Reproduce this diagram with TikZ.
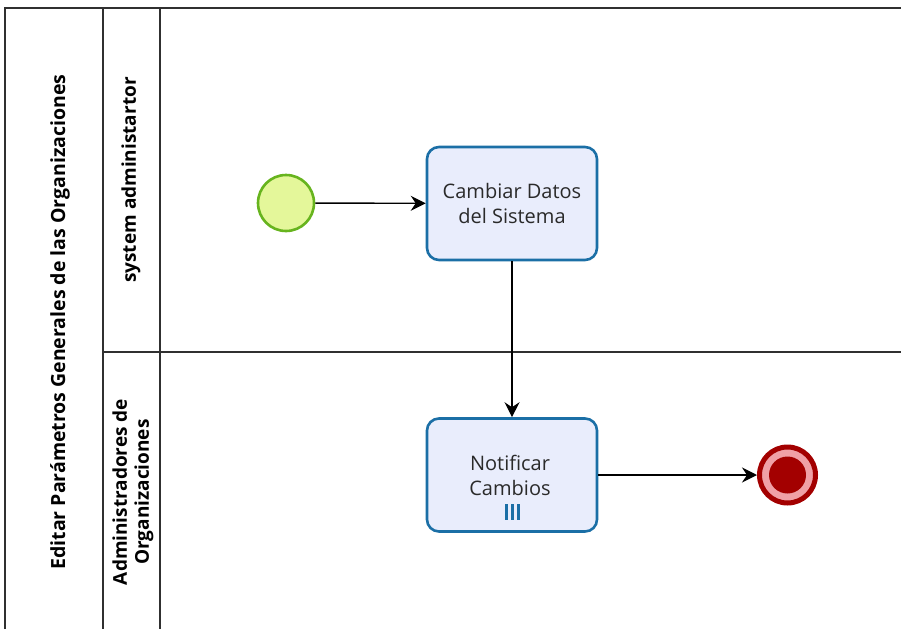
\documentclass[tikz,border=0pt]{standalone}
\usepackage{fontspec}
\setmainfont{Open Sans}
\usetikzlibrary{arrows.meta}
\definecolor{taskfill}{HTML}{E9EDFC}
\definecolor{taskline}{HTML}{1B6FA6}
\definecolor{startfill}{HTML}{E4F79A}
\definecolor{startline}{HTML}{67B41E}
\definecolor{endred}{HTML}{A30000}
\definecolor{endpink}{HTML}{F0A0A6}
\definecolor{poolline}{HTML}{303030}
\definecolor{tasktext}{HTML}{2A2A2A}
\tikzset{
  poolrule/.style={draw=poolline, line width=1.1pt},
  lanetext/.style={font=\bfseries\fontsize{19}{22}\selectfont, rotate=90, align=center, inner sep=0pt},
  tasklabel/.style={font=\fontsize{20}{25}\selectfont, align=center, text=tasktext},
  task/.style={draw=taskline, fill=taskfill, line width=2.6pt, rounded corners=12pt,
    minimum width=170pt, minimum height=113pt, tasklabel},
  startev/.style={circle, draw=startline, fill=startfill, line width=2.6pt, minimum size=56pt, inner sep=0pt},
  endev/.style={circle, draw=endred, fill=endpink, line width=5pt, minimum size=56pt, inner sep=0pt},
  flow/.style={draw=black, line width=1.4pt, -{Stealth[length=15pt, width=15pt, inset=5pt]}}
}
\begin{document}
\begin{tikzpicture}[x=1pt, y=-1pt]
\useasboundingbox (0,0) rectangle (901,629);
\fill[white] (0,0) rectangle (901,629);
% pool and lane frame
\draw[poolrule] (5,629) -- (5,8) -- (901,8);
\draw[poolrule] (103,8) -- (103,629);
\draw[poolrule] (160,8) -- (160,629);
\draw[poolrule] (103,352) -- (901,352);
% pool and lane labels
\node[lanetext, font=\bfseries\fontsize{19.5}{22}\selectfont] (pool) at (60,322) {Editar Parámetros Generales de las Organizaciones};
\node[lanetext] (laneA) at (131,180) {system administartor};
\node[lanetext] (laneB) at (133,492) {Administradores de\\Organizaciones};
% flow objects
\node[startev] (start) at (286,203) {};
\node[task] (cambiar) at (512,203.5) {Cambiar Datos\\del Sistema};
\node[task] (notificar) at (512,475) {};
\node[tasklabel] (notiftext) at (510,475) {Notificar\\Cambios};
\node[endev] (fin) at (787.5,475) {};
\node[circle, fill=endred, minimum size=37pt, inner sep=0pt] (fincore) at (fin) {};
% multi-instance marker
\foreach \dx in {-6,0,6}
  \draw[taskline, line width=3pt] (512+\dx,504) -- (512+\dx,520);
% sequence flows
\draw[flow] (start) -- (cambiar);
\draw[flow] (cambiar) -- (notificar);
\draw[flow] (notificar) -- (fin);
\end{tikzpicture}
\end{document}
